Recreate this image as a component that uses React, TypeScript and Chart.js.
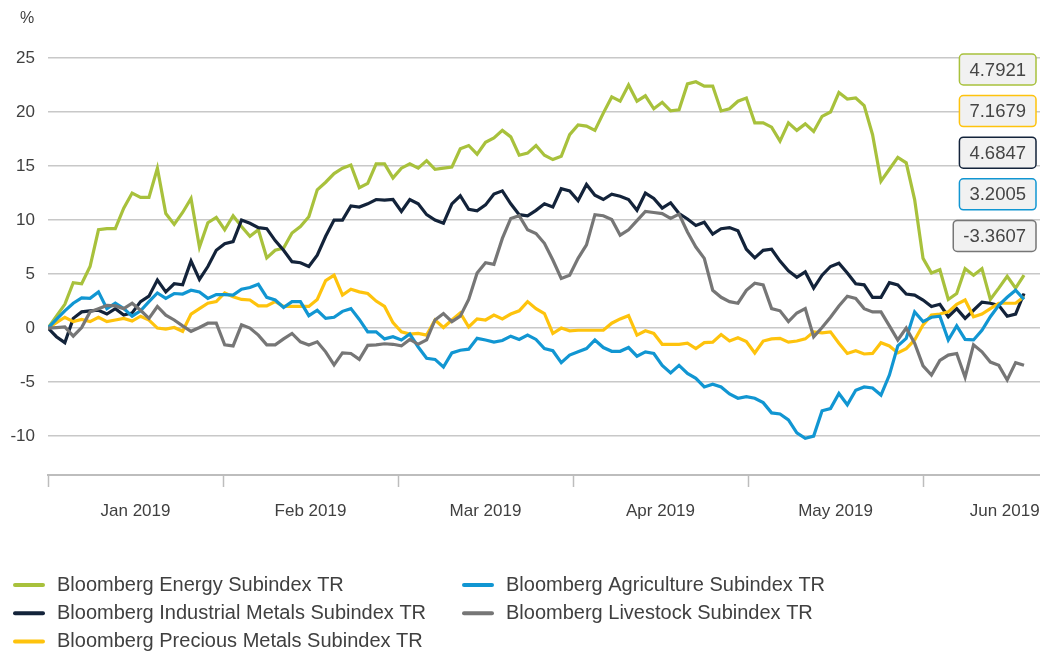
import { useEffect, useRef } from 'react';
import { Chart, registerables } from 'chart.js';

Chart.register(...registerables);

const FONT = '"Liberation Sans", Arial, Helvetica, sans-serif';
const TEXT = '#404040';

const seriesNames = [
  'Bloomberg Energy Subindex TR',
  'Bloomberg Industrial Metals Subindex TR',
  'Bloomberg Precious Metals Subindex TR',
  'Bloomberg Agriculture Subindex TR',
  'Bloomberg Livestock Subindex TR',
];
const seriesColors = ['#a8c13c', '#13233a', '#fec30d', '#1196d2', '#767676'];

const energy = [
  0, 1.1, 2.2, 4.2, 4.1, 5.7, 9.1, 9.2, 9.2, 11.1, 12.5, 12.1, 12.1, 14.8, 10.6, 9.6, 10.7, 12.0, 7.5, 9.75,
  10.25, 9.1, 10.4, 9.4, 8.5, 9.1, 6.5, 7.2, 7.4, 8.8, 9.4, 10.3, 12.8, 13.5, 14.3, 14.8, 15.1, 13.0, 13.4, 15.2,
  15.2, 13.9, 14.8, 15.2, 14.8, 15.5, 14.7, 14.8, 14.9, 16.6, 16.9, 16.1, 17.2, 17.6, 18.3, 17.7, 16.0, 16.2, 16.9, 16.0,
  15.6, 15.9, 17.9, 18.8, 18.7, 18.3, 19.9, 21.4, 21.0, 22.5, 21.0, 21.5, 20.3, 20.9, 20.1, 20.2, 22.6, 22.8, 22.4, 22.4,
  20.1, 20.3, 21.0, 21.3, 19.0, 19.0, 18.6, 17.3, 19.0, 18.3, 18.9, 18.2, 19.6, 20.0, 21.8, 21.2, 21.3, 20.6, 17.9, 13.6,
  14.7, 15.8, 15.3, 11.9, 6.45, 5.1, 5.4, 2.65, 3.2, 5.5, 4.9, 5.5, 2.65, 3.7, 4.8, 3.7, 4.9,
];
const industrialMetals = [
  0, -0.8, -1.35, 0.9, 1.5, 1.6, 1.65, 1.3, 1.8, 1.2, 1.4, 2.45, 2.95, 4.45, 3.35, 4.1, 4.0, 6.2, 4.5, 5.7,
  7.2, 7.8, 8.0, 10.0, 9.7, 9.3, 9.2, 8.1, 7.2, 6.15, 6.05, 5.7, 6.75, 8.5, 10.0, 10.0, 11.3, 11.2, 11.5, 11.9,
  11.85, 11.9, 10.8, 11.9, 11.5, 10.5, 10.0, 9.7, 11.5, 12.25, 11.0, 10.85, 11.4, 12.4, 12.7, 11.5, 10.5, 10.4, 10.9, 11.5,
  11.2, 12.9, 12.7, 11.8, 13.3, 12.3, 11.9, 12.4, 12.2, 11.9, 10.9, 12.5, 12.0, 11.1, 11.6, 10.6, 10.1, 9.5, 9.8, 8.7,
  9.2, 9.3, 9.0, 7.3, 6.5, 7.2, 7.3, 6.2, 5.3, 4.7, 5.2, 3.7, 4.9, 5.7, 6.0, 5.1, 4.1, 4.0, 2.85, 2.85,
  4.2, 4.0, 3.15, 3.05, 2.6, 2.0, 2.2, 1.05, 1.8, 0.9, 1.65, 2.4, 2.3, 2.1, 1.1, 1.3, 3.2,
];
const preciousMetals = [
  0, 0.5, 1.0, 0.6, 0.8, 0.6, 1.0, 0.6, 0.75, 0.9, 0.65, 1.1, 0.75, 0.0, -0.1, 0.05, -0.3, 1.3, 1.8, 2.3,
  2.45, 3.25, 2.9, 2.65, 2.6, 2.05, 2.05, 2.45, 2.0, 2.0, 2.0, 2.0, 2.65, 4.4, 4.9, 3.05, 3.6, 3.35, 3.2, 2.5,
  2.0, 0.5, -0.35, -0.55, -0.5, -0.65, 0.75, 0.05, 0.75, 1.4, 0.1, 0.85, 0.75, 1.2, 0.85, 1.3, 1.6, 2.45, 1.8, 1.35,
  -0.5, 0.0, -0.25, -0.2, -0.2, -0.2, -0.2, 0.45, 0.85, 1.15, -0.65, -0.25, -0.5, -1.5, -1.5, -1.5, -1.4, -1.9, -1.35, -1.3,
  -0.6, -1.2, -0.9, -1.25, -2.3, -1.2, -1.0, -0.95, -1.3, -1.2, -1.0, -0.35, -0.45, -0.35, -1.4, -2.35, -2.1, -2.4, -2.35, -1.35,
  -1.65, -2.3, -1.9, -1.1, 0.3, 1.2, 1.3, 1.5, 2.2, 2.6, 1.05, 1.3, 1.8, 2.3, 2.3, 2.3, 2.9,
];
const agriculture = [
  0, 0.8, 1.6, 2.3, 2.8, 2.75, 3.35, 1.8, 2.3, 1.8, 1.1, 1.6, 2.45, 3.25, 2.75, 3.2, 3.15, 3.5, 3.35, 2.75,
  3.1, 3.1, 3.05, 3.6, 3.75, 4.05, 2.85, 2.6, 1.9, 2.45, 2.45, 1.15, 1.65, 0.9, 1.0, 1.55, 1.8, 0.8, -0.35, -0.35,
  -1.0, -0.8, -1.1, -0.55, -1.75, -2.8, -2.9, -3.6, -2.3, -2.05, -1.95, -0.95, -1.1, -1.3, -1.15, -0.75, -1.05, -0.65, -1.05, -1.9,
  -2.1, -3.2, -2.5, -2.2, -1.9, -1.1, -1.8, -2.15, -2.15, -1.8, -2.6, -2.2, -2.35, -3.45, -4.15, -3.45, -4.2, -4.65, -5.45, -5.2,
  -5.45, -6.1, -6.5, -6.35, -6.5, -6.9, -7.85, -7.95, -8.5, -9.7, -10.2, -10.0, -7.65, -7.45, -6.05, -7.1, -5.75, -5.45, -5.55, -6.2,
  -4.35, -1.65, -0.95, 1.5, 0.6, 1.0, 1.1, -1.1, 0.2, -1.05, -1.1, -0.2, 1.05, 2.1, 2.85, 3.5, 2.65,
];
const livestock = [
  0, 0.05, 0.1, -0.75, 0.05, 1.5, 1.8, 2.1, 2.05, 1.8, 2.3, 1.65, 0.9, 2.0, 1.2, 0.75, 0.2, -0.3, 0.05, 0.45,
  0.45, -1.55, -1.65, 0.3, 0.0, -0.65, -1.55, -1.55, -1.0, -0.5, -1.27, -1.57, -1.27, -2.2, -3.4, -2.3, -2.35, -2.9, -1.6, -1.55,
  -1.45, -1.5, -1.65, -1.05, -1.5, -1.1, 0.75, 1.35, 0.6, 1.1, 2.65, 5.1, 6.05, 5.9, 8.3, 10.15, 10.4, 9.1, 8.75, 7.85,
  6.3, 4.6, 4.9, 6.45, 7.7, 10.5, 10.4, 10.05, 8.6, 9.1, 9.95, 10.8, 10.7, 10.6, 10.15, 10.55, 8.9, 7.5, 6.45, 3.5,
  2.85, 2.45, 2.3, 3.5, 4.15, 4.0, 1.8, 1.6, 0.6, 1.4, 1.8, -0.8, 0.05, 1.0, 2.05, 2.95, 2.75, 1.8, 1.5, 1.5,
  0.2, -1.1, 0.0, -1.4, -3.5, -4.35, -3.0, -2.5, -2.35, -4.55, -1.55, -2.2, -3.15, -3.45, -4.8, -3.2, -3.45,
];

const allSeries = [energy, industrialMetals, preciousMetals, agriculture, livestock];

// x axis: trading-day index; month boundaries and month labels
const monthBoundaries = [0, 20.8, 41.6, 62.4, 83.2, 104];
const monthLabels = ['Jan 2019', 'Feb 2019', 'Mar 2019', 'Apr 2019', 'May 2019', 'Jun 2019'];
const xMax = 117.9;

const yTicks = [-10, -5, 0, 5, 10, 15, 20, 25];
const yMin = -13.6;
const yMax = 25;
const unitLabel = '%';

// last-value boxes on the right (text, series index)
const boxTexts = ['4.7921', '7.1679', '4.6847', '3.2005', '-3.3607'];
const boxSeries = [0, 2, 1, 3, 4];

// legend columns (series indices)
const legendColumns = [[0, 1, 2], [3, 4]];

const halfMonth = 10.4;
const xTickValues: number[] = [];
const xTickText: string[] = [];
monthBoundaries.forEach((b, k) => {
  xTickValues.push(b);
  xTickText.push('');
  xTickValues.push(Math.min(b + halfMonth, xMax - 4.2));
  xTickText.push(monthLabels[k]);
});

const overlayPlugin = {
  id: 'overlay',
  afterDraw(chart: any) {
    const { ctx, chartArea } = chart;
    ctx.save();
    // unit label
    ctx.font = `16px ${FONT}`;
    ctx.fillStyle = TEXT;
    ctx.textAlign = 'center';
    ctx.textBaseline = 'middle';
    ctx.fillText(unitLabel, chartArea.left - 21, chartArea.top - 39);

    // value boxes
    ctx.font = `18.5px ${FONT}`;
    boxTexts.forEach((t, k) => {
      const w = ctx.measureText(t).width + 20;
      const h = 31;
      const x = chartArea.right - 4 - w;
      const y = chartArea.top - 4 + k * 41.6;
      ctx.beginPath();
      ctx.roundRect(x, y, w, h, 4);
      ctx.fillStyle = '#f1f1f1';
      ctx.fill();
      ctx.lineWidth = 1.5;
      ctx.strokeStyle = seriesColors[boxSeries[k]];
      ctx.stroke();
      ctx.fillStyle = '#454545';
      ctx.textAlign = 'center';
      ctx.textBaseline = 'middle';
      ctx.fillText(t, x + w / 2, y + h / 2 + 1);
    });

    // legend
    const colX = [13, 462];
    const rowY0 = chartArea.bottom + 110;
    const rowGap = 28.3;
    ctx.font = `20px ${FONT}`;
    ctx.textAlign = 'left';
    ctx.textBaseline = 'middle';
    legendColumns.forEach((col, c) => {
      col.forEach((si, r) => {
        const y = rowY0 + r * rowGap;
        ctx.beginPath();
        ctx.lineCap = 'round';
        ctx.lineWidth = 4;
        ctx.strokeStyle = seriesColors[si];
        ctx.moveTo(colX[c] + 2, y);
        ctx.lineTo(colX[c] + 30, y);
        ctx.stroke();
        ctx.fillStyle = TEXT;
        ctx.fillText(seriesNames[si], colX[c] + 44, y);
      });
    });
    ctx.restore();
  },
};

export default function App() {
  const ref = useRef<HTMLCanvasElement>(null);

  useEffect(() => {
    document.body.style.margin = '0';
    if (!ref.current) return;
    Chart.defaults.font.family = FONT;
    const chart = new Chart(ref.current, {
      type: 'line',
      data: {
        datasets: allSeries.map((arr, si) => ({
          label: seriesNames[si],
          data: arr.map((v, i) => ({ x: i, y: v })),
          borderColor: seriesColors[si],
          backgroundColor: seriesColors[si],
          borderWidth: 3.2,
          pointRadius: 0,
          tension: 0,
          fill: false,
          order: allSeries.length - si,
        })),
      },
      options: {
        responsive: false,
        devicePixelRatio: 1,
        animation: false,
        events: [],
        layout: { padding: { top: 58, left: 0, right: 0, bottom: 120 } },
        plugins: {
          legend: { display: false },
          tooltip: { enabled: false },
          title: { display: false },
        },
        scales: {
          x: {
            type: 'linear',
            min: 0,
            max: xMax,
            afterBuildTicks: (scale: any) => {
              scale.ticks = xTickValues.map((v) => ({ value: v }));
            },
            afterFit: (scale: any) => {
              scale.height = 60;
              scale.paddingLeft = 0;
              scale.paddingRight = 0;
            },
            ticks: {
              autoSkip: false,
              maxRotation: 0,
              minRotation: 0,
              padding: 14,
              color: TEXT,
              font: { size: 17, family: FONT },
              callback: (_v: any, index: number) => xTickText[index] ?? '',
            },
            grid: {
              drawOnChartArea: false,
              drawTicks: true,
              tickLength: 12,
              tickWidth: 1.5,
              tickColor: (ctx: any) => (xTickText[ctx.index] === '' ? '#bdbdbd' : 'rgba(0,0,0,0)'),
            },
            border: { display: true, color: '#bdbdbd', width: 2 },
          },
          y: {
            type: 'linear',
            min: yMin,
            max: yMax,
            afterBuildTicks: (scale: any) => {
              scale.ticks = yTicks.map((v) => ({ value: v }));
            },
            afterFit: (scale: any) => {
              scale.width = 48;
              scale.paddingTop = 0;
              scale.paddingBottom = 0;
            },
            ticks: {
              padding: 13,
              color: TEXT,
              font: { size: 17, family: FONT },
              callback: (v: any) => String(v),
            },
            grid: {
              drawTicks: false,
              color: '#c8c8c8',
              lineWidth: 1.5,
            },
            border: { display: false },
          },
        },
      },
      plugins: [overlayPlugin],
    } as any);
    return () => chart.destroy();
  }, []);

  return (
    <div style={{ width: 1040, height: 655 }}>
      <canvas ref={ref} width={1040} height={655} style={{ display: 'block' }} />
    </div>
  );
}
